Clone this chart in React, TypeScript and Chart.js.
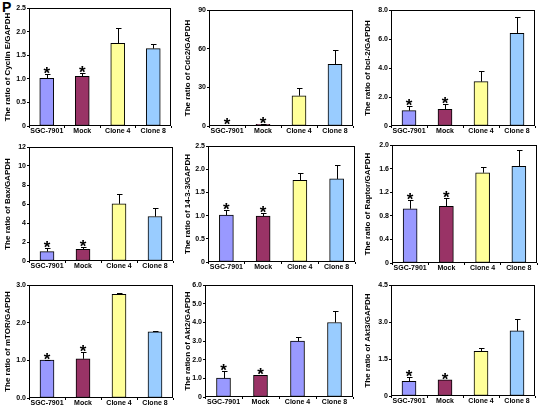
import React, { useEffect, useRef } from "react";
import { Chart, registerables } from "chart.js";

Chart.register(...registerables);

const categories = ["SGC-7901", "Mock", "Clone 4", "Clone 8"];
const starred = [true, true, false, false];
const colorsStd = ["#9999ff", "#993366", "#ffff99", "#99ccff"];
const colorsAkt2 = ["#9999ff", "#993366", "#9999ff", "#99ccff"];

const cyclinE = [1.01, 1.05, 1.75, 1.64];
const cyclinEErr = [0.09, 0.08, 0.33, 0.1];
const cyclinETicks = ["0", "0.5", "1.0", "1.5", "2.0", "2.5"];

const cdc2 = [0.5, 1.3, 23.5, 47.8];
const cdc2Err = [0.3, 0.5, 5.7, 11.2];
const cdc2Ticks = ["0", "30", "60", "90"];

const bcl2 = [1.06, 1.15, 3.06, 6.39];
const bcl2Err = [0.34, 0.37, 0.73, 1.1];
const bcl2Ticks = ["0", "2.0", "4.0", "6.0", "8.0"];

const bax = [0.99, 1.23, 6.02, 4.68];
const baxErr = [0.35, 0.2, 1.05, 0.88];
const baxTicks = ["0", "2", "4", "6", "8", "10", "12"];

const p1433 = [1.01, 0.99, 1.76, 1.79];
const p1433Err = [0.1, 0.07, 0.16, 0.29];
const p1433Ticks = ["0", "0.5", "1.0", "1.5", "2.0", "2.5"];

const raptor = [0.92, 0.96, 1.53, 1.64];
const raptorErr = [0.14, 0.15, 0.1, 0.28];
const raptorTicks = ["0", "0.4", "0.8", "1.2", "1.6", "2.0"];

const mtor = [1.01, 1.04, 2.75, 1.76];
const mtorErr = [0.01, 0.18, 0.03, 0.01];
const mtorTicks = ["0.0", "1.0", "2.0", "3.0"];

const akt2 = [1.01, 1.16, 2.99, 3.99];
const akt2Err = [0.4, 0.03, 0.23, 0.64];
const akt2Ticks = ["0", "1.0", "2.0", "3.0", "4.0", "5.0", "6.0"];

const akt3 = [0.59, 0.66, 1.81, 2.64];
const akt3Err = [0.19, 0, 0.12, 0.47];
const akt3Ticks = ["0", "1.5", "3.0", "4.5"];

const FONT = "'Liberation Sans', Arial, Helvetica, sans-serif";

type PanelCfg = {
  title: string;
  values: number[];
  errors: number[];
  ticks: string[];
  max: number;
  step: number;
  colors: string[];
  colX: number;
  L: number;
  R: number;
  T: number;
  B: number;
};

const panels: PanelCfg[] = [
  { title: "The ratio of Cyclin E/GAPDH", values: cyclinE, errors: cyclinEErr, ticks: cyclinETicks, max: 2.5, step: 0.5, colors: colorsStd, colX: 0, L: 29, R: 171, T: 8, B: 126 },
  { title: "The ratio of Cdc2/GAPDH", values: cdc2, errors: cdc2Err, ticks: cdc2Ticks, max: 90, step: 30, colors: colorsStd, colX: 180, L: 209, R: 353, T: 10, B: 126 },
  { title: "The ratio of bcl-2/GAPDH", values: bcl2, errors: bcl2Err, ticks: bcl2Ticks, max: 8, step: 2, colors: colorsStd, colX: 360, L: 391, R: 535, T: 10, B: 126 },
  { title: "The ratio of Bax/GAPDH", values: bax, errors: baxErr, ticks: baxTicks, max: 12, step: 2, colors: colorsStd, colX: 0, L: 29, R: 173, T: 147, B: 261 },
  { title: "The ratio of 14-3-3/GAPDH", values: p1433, errors: p1433Err, ticks: p1433Ticks, max: 2.5, step: 0.5, colors: colorsStd, colX: 180, L: 208, R: 355, T: 146, B: 262 },
  { title: "The ratio of Raptor/GAPDH", values: raptor, errors: raptorErr, ticks: raptorTicks, max: 2.0, step: 0.4, colors: colorsStd, colX: 360, L: 392, R: 537, T: 145, B: 263 },
  { title: "The ratio of mTOR/GAPDH", values: mtor, errors: mtorErr, ticks: mtorTicks, max: 3, step: 1, colors: colorsStd, colX: 0, L: 29, R: 173, T: 285, B: 398 },
  { title: "The ration of Akt2/GAPDH", values: akt2, errors: akt2Err, ticks: akt2Ticks, max: 6, step: 1, colors: colorsAkt2, colX: 180, L: 205, R: 353, T: 285, B: 397 },
  { title: "The ratio of Akt3/GAPDH", values: akt3, errors: akt3Err, ticks: akt3Ticks, max: 4.5, step: 1.5, colors: colorsStd, colX: 360, L: 391, R: 535, T: 285, B: 396 },
];

function Panel({ p }: { p: PanelCfg }) {
  const ref = useRef<HTMLCanvasElement>(null);
  const padTop = 6;
  const padRight = 4;
  const xAxisH = 12;
  const left = p.colX;
  const top = p.T - padTop;
  const width = p.R - p.colX + padRight;
  const height = p.B - p.T + padTop + xAxisH;

  useEffect(() => {
    const decor = {
      id: "decor",
      afterDatasetsDraw(chart: any) {
        const { ctx, chartArea, scales } = chart;
        const meta = chart.getDatasetMeta(0);
        ctx.save();
        ctx.strokeStyle = "#000";
        ctx.fillStyle = "#000";
        ctx.lineWidth = 1;
        meta.data.forEach((bar: any, i: number) => {
          const v = p.values[i];
          const e = p.errors[i];
          const x = Math.round(bar.x) + 0.5;
          const y0 = scales.y.getPixelForValue(v);
          const y1 = scales.y.getPixelForValue(v + e);
          if (e > 0) {
            const yc = Math.round(y1) + 0.5;
            ctx.beginPath();
            ctx.moveTo(x, y0);
            ctx.lineTo(x, yc);
            ctx.moveTo(x - 2.5, yc);
            ctx.lineTo(x + 3, yc);
            ctx.stroke();
          }
          if (starred[i]) {
            ctx.font = `bold 17px ${FONT}`;
            ctx.textAlign = "center";
            ctx.textBaseline = "alphabetic";
            ctx.fillText("*", bar.x, y1 + 5);
          }
        });
        ctx.strokeRect(
          chartArea.left + 0.5,
          chartArea.top + 0.5,
          chartArea.right - chartArea.left - 1,
          chartArea.bottom - chartArea.top - 1
        );
        ctx.restore();
      },
    };

    const tickFont = { family: FONT, size: 7, weight: "bold" as const };
    const chart = new Chart(ref.current as HTMLCanvasElement, {
      type: "bar",
      data: {
        labels: categories,
        datasets: [
          {
            data: p.values,
            backgroundColor: p.colors,
            borderColor: "#000",
            borderWidth: 1,
            borderSkipped: false,
            barThickness: 14,
          },
        ],
      },
      options: {
        animation: false,
        responsive: false,
        maintainAspectRatio: false,
        devicePixelRatio: 1,
        layout: { padding: { top: padTop, right: padRight, bottom: 0, left: 0 } },
        plugins: {
          legend: { display: false },
          tooltip: { enabled: false },
        },
        scales: {
          x: {
            grid: {
              display: true,
              drawOnChartArea: false,
              drawTicks: true,
              tickLength: 2,
              color: "#000",
              offset: true,
            },
            border: { display: false },
            ticks: {
              font: tickFont,
              color: "#000",
              padding: -1,
              maxRotation: 0,
              autoSkip: false,
            },
            afterFit: (s: any) => {
              s.height = xAxisH;
            },
          },
          y: {
            min: 0,
            max: p.max,
            grid: {
              display: true,
              drawOnChartArea: false,
              drawTicks: true,
              tickLength: 2,
              color: "#000",
            },
            border: { display: false },
            ticks: {
              stepSize: p.step,
              font: tickFont,
              color: "#000",
              padding: 1,
              callback: (_v: any, i: number) => p.ticks[i] ?? "",
            },
            title: {
              display: true,
              text: p.title,
              color: "#000",
              font: { family: FONT, size: 8, weight: "bold" },
              padding: { top: 3, bottom: 0 },
            },
            afterFit: (s: any) => {
              s.width = p.L - p.colX;
            },
          },
        },
      },
      plugins: [decor],
    } as any);
    return () => chart.destroy();
  }, []);

  return (
    <canvas
      ref={ref}
      width={width}
      height={height}
      style={{ position: "absolute", left, top, width, height }}
    />
  );
}

export default function App() {
  return (
    <div
      style={{
        position: "absolute",
        left: 0,
        top: 0,
        width: 544,
        height: 408,
        background: "#fff",
        overflow: "hidden",
      }}
    >
      <div
        style={{
          position: "absolute",
          left: 2,
          top: 0,
          font: `bold 14px ${FONT}`,
          lineHeight: "14px",
          color: "#000",
        }}
      >
        P
      </div>
      {panels.map((p, i) => (
        <Panel key={i} p={p} />
      ))}
    </div>
  );
}
